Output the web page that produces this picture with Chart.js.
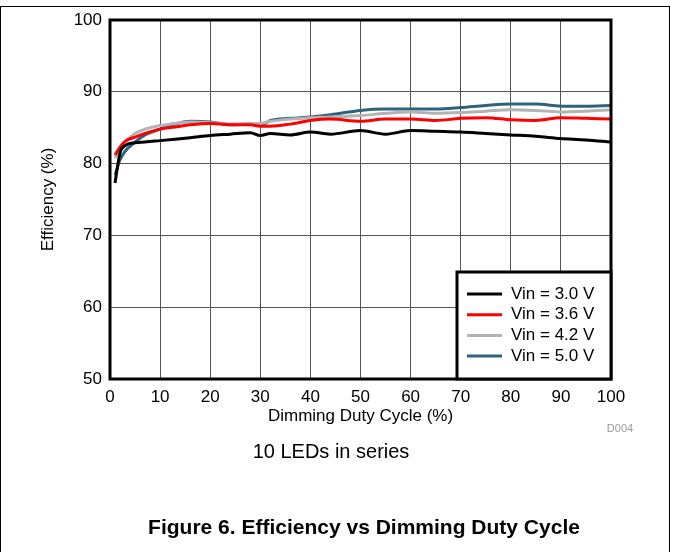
<!DOCTYPE html>
<html>
<head>
<meta charset="utf-8">
<script src="https://cdn.jsdelivr.net/npm/chart.js@4.4.1/dist/chart.umd.min.js"></script>
<style>
  body { margin: 0; background: #fff; font-family: "Liberation Sans", Arial, sans-serif; }
  #wrap { position: relative; width: 673px; height: 552px; overflow: hidden; }
  #frame { position: absolute; left: 0; top: 6px; width: 668px; height: 560px; border: 1px solid #000; border-bottom: none; }
  canvas { position: absolute; left: 0; top: 0; }
  .txt { position: absolute; white-space: nowrap; transform: translate(-50%, -50%); color: #000; }
</style>
</head>
<body>
<div id="wrap">
  <div id="frame"></div>
  <canvas id="chart" width="673" height="552"></canvas>
  <div class="txt" style="left:620px; top:428px; font-size:11px; color:#999;">D004</div>
  <div class="txt" style="left:331px; top:451px; font-size:20px;">10 LEDs in series</div>
  <div class="txt" style="left:364px; top:527px; font-size:21px; font-weight:bold;">Figure 6. Efficiency vs Dimming Duty Cycle</div>
</div>
<script>
// Dimming duty cycle (%) sample points
const dutyCycle = [1, 2, 3, 5, 7, 10, 13, 16, 20, 24, 28, 30, 32, 36, 40, 44, 50, 55, 60, 65, 70, 75, 80, 85, 90, 95, 100];

// Efficiency (%) per input voltage
const vin30 = [77.3, 81.5, 82.5, 82.9, 83.0, 83.2, 83.4, 83.6, 83.9, 84.1, 84.3, 83.9, 84.2, 84.0, 84.4, 84.1, 84.6, 84.1, 84.6, 84.5, 84.4, 84.2, 84.0, 83.8, 83.5, 83.3, 83.0];
const vin36 = [81.2, 82.3, 83.1, 83.7, 84.2, 84.8, 85.1, 85.4, 85.6, 85.4, 85.4, 85.2, 85.2, 85.5, 86.0, 86.2, 85.9, 86.2, 86.2, 86.0, 86.3, 86.4, 86.1, 86.0, 86.4, 86.3, 86.2];
const vin42 = [80.8, 82.0, 83.0, 84.2, 84.8, 85.3, 85.6, 85.8, 85.7, 85.5, 85.6, 85.6, 85.9, 86.2, 86.4, 86.5, 86.7, 87.0, 87.2, 87.0, 87.1, 87.3, 87.5, 87.4, 87.2, 87.3, 87.5];
const vin50 = [78.4, 80.5, 81.7, 83.0, 84.0, 84.8, 85.5, 85.9, 85.8, 85.4, 85.5, 85.3, 86.0, 86.3, 86.5, 86.8, 87.4, 87.6, 87.6, 87.6, 87.8, 88.1, 88.3, 88.3, 88.0, 88.0, 88.1];

const seriesLabels = ["Vin = 3.0 V", "Vin = 3.6 V", "Vin = 4.2 V", "Vin = 5.0 V"];
const seriesColors = ["#000000", "#ff0000", "#b3b3b3", "#2f637c"];
const seriesValues = [vin30, vin36, vin42, vin50];

const fontFamily = '"Liberation Sans", Arial, sans-serif';

const toPoints = vals => vals.map((v, i) => ({ x: dutyCycle[i], y: v }));

// plot frame + boxed legend in the lower right corner
const frameAndLegend = {
  id: "frameAndLegend",
  afterDatasetsDraw(chart) {
    const { ctx, chartArea: a } = chart;
    ctx.save();
    ctx.lineWidth = 3;
    ctx.strokeStyle = "#000";
    ctx.strokeRect(a.left, a.top, a.right - a.left, a.bottom - a.top);

    const w = 154, h = 107;
    const x = a.right - w, y = a.bottom - h;
    ctx.fillStyle = "#fff";
    ctx.fillRect(x, y, w, h);
    ctx.strokeRect(x, y, w, h);

    ctx.font = "17px " + fontFamily;
    ctx.textBaseline = "middle";
    ctx.textAlign = "left";
    chart.data.datasets.forEach((ds, i) => {
      const ly = y + 22 + i * 20.7;
      ctx.strokeStyle = ds.borderColor;
      ctx.lineWidth = 3;
      ctx.beginPath();
      ctx.moveTo(x + 10, ly);
      ctx.lineTo(x + 45, ly);
      ctx.stroke();
      ctx.fillStyle = "#000";
      ctx.fillText(ds.label, x + 54, ly);
    });
    ctx.restore();
  }
};

new Chart(document.getElementById("chart"), {
  type: "line",
  data: {
    datasets: seriesValues.map((vals, i) => ({
      label: seriesLabels[i],
      data: toPoints(vals),
      borderColor: seriesColors[i],
      borderWidth: 3,
      pointRadius: 0,
      fill: false,
      cubicInterpolationMode: "monotone"
    }))
  },
  options: {
    responsive: false,
    animation: false,
    layout: { padding: { left: 38, right: 62, top: 20, bottom: 125 } },
    plugins: { legend: { display: false }, tooltip: { enabled: false } },
    scales: {
      x: {
        type: "linear",
        min: 0,
        max: 100,
        ticks: { stepSize: 10, color: "#000", padding: 8, font: { family: fontFamily, size: 17 } },
        grid: { color: "#555", lineWidth: 1, drawTicks: false },
        border: { display: false },
        title: { display: true, text: "Dimming Duty Cycle (%)", color: "#000", padding: 0, font: { family: fontFamily, size: 17 } },
        afterFit: s => { s.height = 48; }
      },
      y: {
        min: 50,
        max: 100,
        ticks: { stepSize: 10, color: "#000", padding: 8, font: { family: fontFamily, size: 17 } },
        grid: { color: "#555", lineWidth: 1, drawTicks: false },
        border: { display: false },
        title: { display: true, text: "Efficiency (%)", color: "#000", padding: 0, font: { family: fontFamily, size: 17 } },
        afterFit: s => { s.width = 72; }
      }
    }
  },
  plugins: [frameAndLegend]
});
</script>
</body>
</html>
